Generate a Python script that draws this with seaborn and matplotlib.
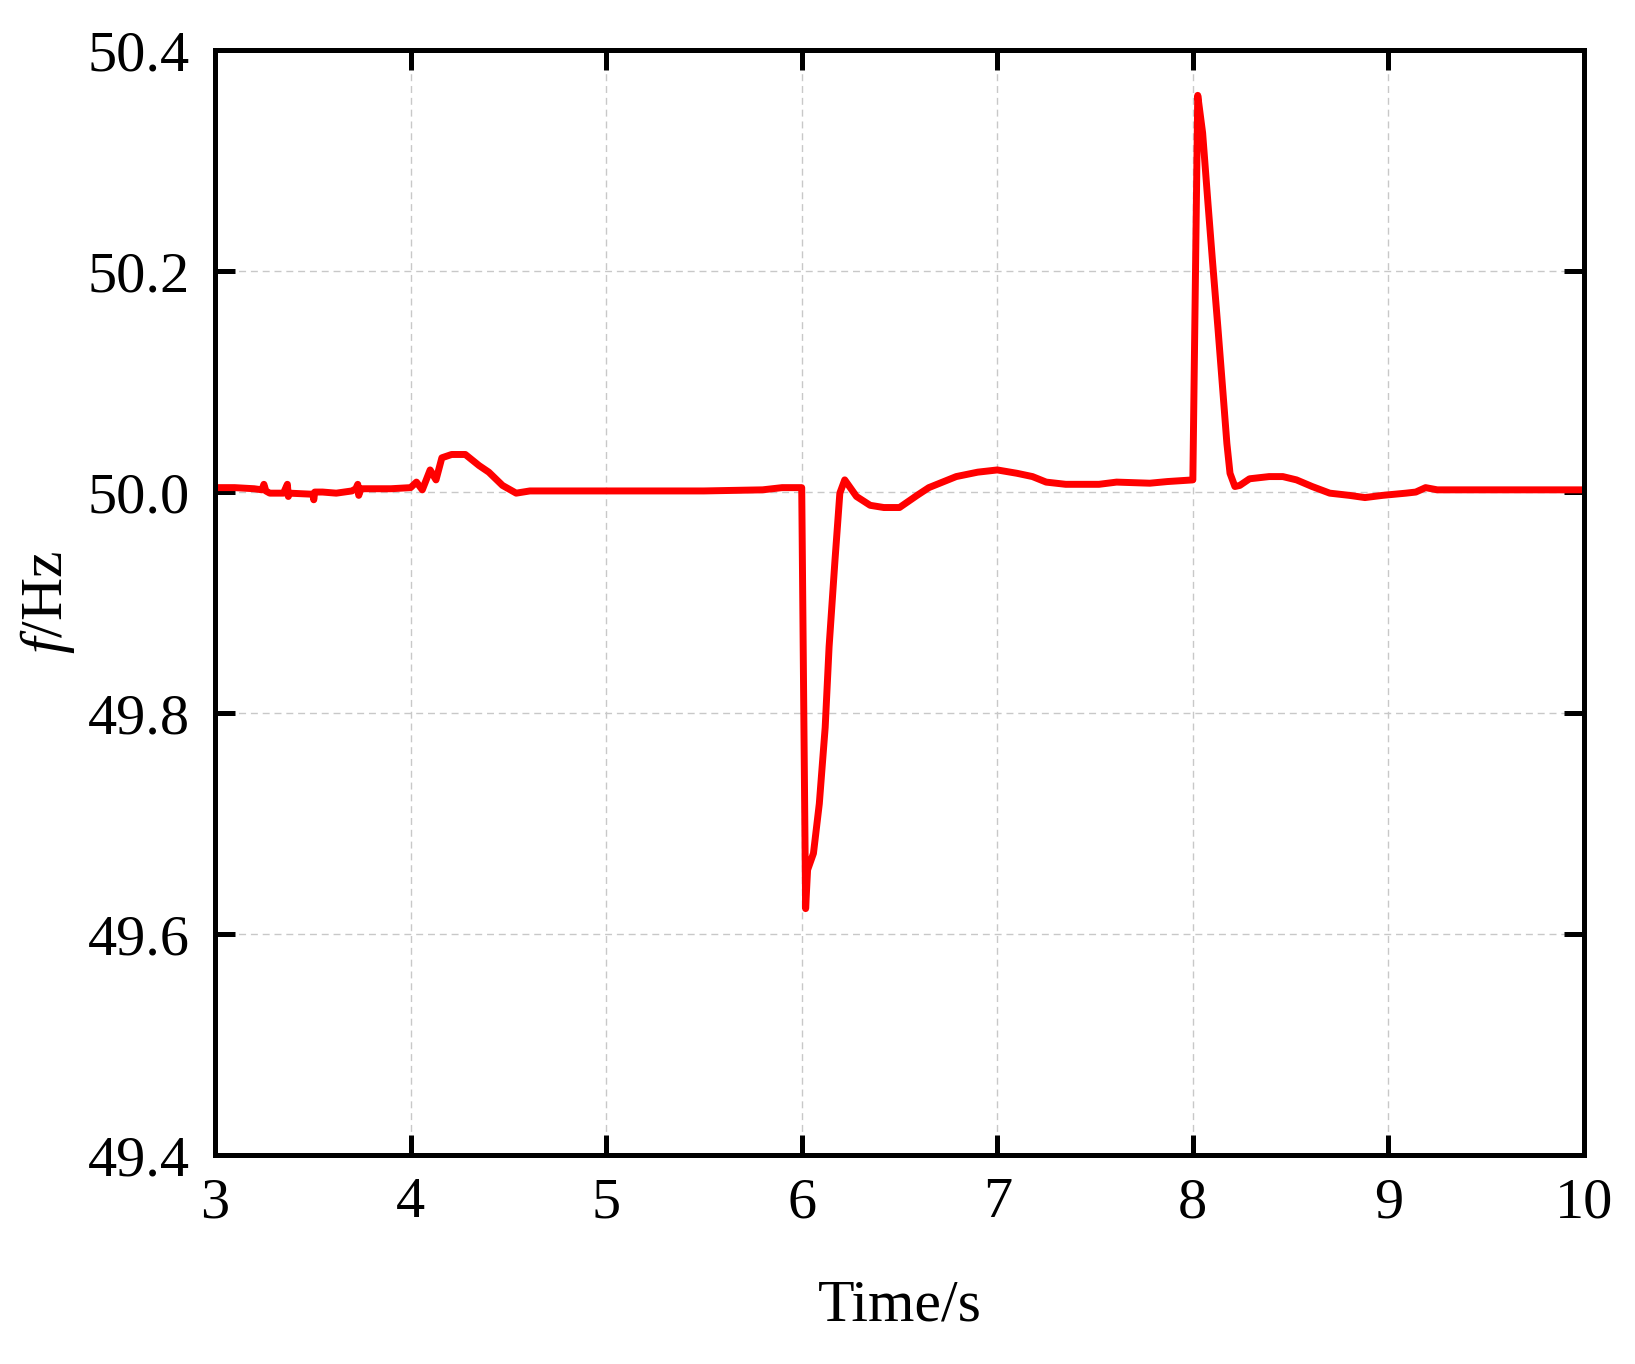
import matplotlib
matplotlib.use("Agg")
import matplotlib.pyplot as plt
import seaborn as sns
import pandas as pd
import numpy as np

time_s = [3.00, 3.10, 3.20, 3.24, 3.25, 3.26, 3.28, 3.35, 3.37, 3.375, 3.38, 3.50, 3.505, 3.51,
          3.55, 3.62, 3.70, 3.72, 3.73, 3.735, 3.745, 3.90, 4.00, 4.03, 4.06, 4.10, 4.13, 4.16,
          4.21, 4.28, 4.35, 4.40, 4.47, 4.54, 4.61, 5.00, 5.50, 5.80, 5.90, 6.00, 6.02, 6.03,
          6.06, 6.09, 6.12, 6.14, 6.17, 6.195, 6.22, 6.28, 6.35, 6.42, 6.50, 6.59, 6.65, 6.79,
          6.90, 7.00, 7.10, 7.18, 7.25, 7.35, 7.52, 7.61, 7.78, 7.87, 8.00, 8.025, 8.05, 8.077,
          8.10, 8.128, 8.154, 8.174, 8.19, 8.215, 8.24, 8.29, 8.39, 8.46, 8.53, 8.61, 8.70,
          8.80, 8.88, 8.97, 9.09, 9.14, 9.19, 9.25, 10.00]
freq_hz = [50.004, 50.004, 50.003, 50.002, 50.007, 50.001, 49.999, 49.999, 50.007, 49.996, 49.999,
           49.998, 49.993, 50.000, 50.000, 49.999, 50.001, 50.003, 50.007, 49.997, 50.003, 50.003,
           50.004, 50.009, 50.002, 50.020, 50.011, 50.031, 50.034, 50.034, 50.024, 50.018, 50.006,
           49.999, 50.001, 50.001, 50.001, 50.002, 50.004, 50.004, 49.623, 49.658, 49.673, 49.718,
           49.787, 49.860, 49.938, 49.999, 50.011, 49.996, 49.988, 49.986, 49.986, 49.997, 50.004,
           50.014, 50.018, 50.020, 50.017, 50.014, 50.009, 50.007, 50.007, 50.009, 50.008, 50.0095,
           50.011, 50.359, 50.325, 50.262, 50.210, 50.149, 50.090, 50.044, 50.017, 50.005, 50.006,
           50.012, 50.014, 50.014, 50.011, 50.005, 49.999, 49.997, 49.995, 49.997, 49.999, 50.000,
           50.004, 50.002, 50.002]

x_ticks = [3, 4, 5, 6, 7, 8, 9, 10]
y_ticks = [49.4, 49.6, 49.8, 50.0, 50.2, 50.4]
x_label = "Time/s"
y_label = "$f$/Hz"

sns.set_theme(style="white")
plt.rcParams["font.family"] = ["Liberation Serif", "DejaVu Serif"]
plt.rcParams["mathtext.fontset"] = "custom"
plt.rcParams["mathtext.rm"] = "Liberation Serif"
plt.rcParams["mathtext.it"] = "Liberation Serif:italic"

df = pd.DataFrame({"t": time_s, "f": freq_hz})

fig = plt.figure(figsize=(16.35, 13.64), dpi=100)
ax = fig.add_axes([0.1315, 0.1532, 0.8373, 0.8101])

ax.grid(True, color="#c8c8c8", linestyle=(0, (5, 3.5)), linewidth=1.0)
sns.lineplot(data=df, x="t", y="f", ax=ax, color="#ff0000", linewidth=5.0,
             estimator=None, sort=False, legend=False)
for ln in ax.lines:
    ln.set_linewidth(5.0)
    ln.set_solid_joinstyle("round")
    ln.set_solid_capstyle("round")

ax.set_xlim(3, 10)
ax.set_ylim(49.4, 50.4)
ax.set_xticks(x_ticks)
ax.set_xticklabels([str(v) for v in x_ticks])
ax.set_yticks(y_ticks)
ax.set_yticklabels([f"{v:.1f}" for v in y_ticks])

for s in ax.spines.values():
    s.set_visible(True)
    s.set_linewidth(3.6)
    s.set_color("black")
ax.tick_params(axis="both", which="major", direction="in", length=14.5, width=3.6,
               bottom=True, left=True, top=True, right=True,
               labelsize=42, colors="black", pad=16)
ax.tick_params(axis="y", pad=18)

ax.set_xlabel(x_label, fontsize=43, labelpad=36, color="black")
ax.set_ylabel(y_label, fontsize=43, labelpad=8, color="black")

fig.savefig("out.png", dpi=100, facecolor="white")
